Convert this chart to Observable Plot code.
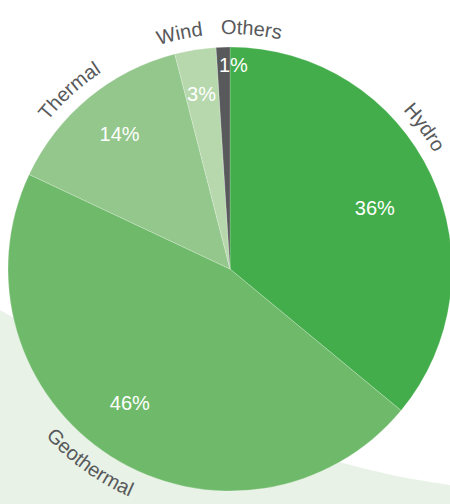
<!DOCTYPE html>
<html><head><meta charset="utf-8">
<script src="https://cdn.jsdelivr.net/npm/d3@7"></script>
<script src="https://cdn.jsdelivr.net/npm/@observablehq/plot@0.6"></script>
<style>html,body{margin:0;padding:0;background:#fff;} #chart svg{display:block;}</style>
</head><body><div id="chart"></div>
<script>
// ---- data ----
const categories = ["Hydro", "Geothermal", "Thermal", "Wind", "Others"];
const shares = [36, 46, 14, 3, 1];
const percentLabels = ["36%", "46%", "14%", "3%", "1%"];

// ---- styles / layout ----
const sliceColors = ["#42ad4a", "#6fba6a", "#93c78c", "#b6d8ac", "#58595b"];
const labelColor = "#58595b";
const bandColor = "#e8f2e7";
const pctRadius = [0.706, 0.755, 0.787, 0.80, 0.92];
const pctAngleShift = [2.3, 4.5, 0.2, -0.4, 2.6];       // degrees
const nameAngleShift = [-10.9, 3.4, -2.4, -3.1, 6.9];   // degrees
const bandX = [-1.036, -0.27, 0.509, 0.991];
const bandY = [0.185, 0.595, 0.874, 0.973];
const bandBottom = 1.06;
const font = "'Liberation Sans', Arial, Helvetica, sans-serif";

const arcs = d3.pie().sort(null).value(d => d)(shares);
const deg = Math.PI / 180;

const pctData = arcs.map((a, i) => {
  const t = (a.startAngle + a.endAngle) / 2 + pctAngleShift[i] * deg;
  return {label: percentLabels[i], x: pctRadius[i] * Math.sin(t), y: -pctRadius[i] * Math.cos(t)};
});

const band = bandX.map((x, i) => ({x, y: bandY[i]}));

function pieMark(index, scales) {
  const cx = scales.x(0), cy = scales.y(0), R = scales.x(1) - cx;
  const g = d3.create("svg:g").attr("transform", `translate(${cx},${cy})`);
  const arc = d3.arc().innerRadius(0).outerRadius(R);
  g.selectAll("path").data(arcs).join("path")
    .attr("d", arc)
    .attr("fill", (d, i) => sliceColors[i])
    .attr("stroke", "#ffffff").attr("stroke-opacity", 0.35).attr("stroke-width", 0.6);
  return g.node();
}

function nameMark(index, scales) {
  const cx = scales.x(0), cy = scales.y(0), R = scales.x(1) - cx;
  const g = d3.create("svg:g");
  const pt = (r, t) => [cx + r * Math.sin(t), cy - r * Math.cos(t)];
  arcs.forEach((a, i) => {
    let t = (a.startAngle + a.endAngle) / 2 + nameAngleShift[i] * deg;
    const td = ((t / deg) % 360 + 360) % 360;
    const flip = td > 90 && td < 270;
    const r = flip ? R + 27 : R + 13;
    let d;
    if (!flip) {
      const p0 = pt(r, t - Math.PI / 2), p1 = pt(r, t + Math.PI / 2);
      d = `M${p0[0]},${p0[1]} A${r},${r} 0 0 1 ${p1[0]},${p1[1]}`;
    } else {
      const p0 = pt(r, t + Math.PI / 2), p1 = pt(r, t - Math.PI / 2);
      d = `M${p0[0]},${p0[1]} A${r},${r} 0 0 0 ${p1[0]},${p1[1]}`;
    }
    const id = "lblpath" + i;
    g.append("path").attr("id", id).attr("d", d).attr("fill", "none").attr("stroke", "none");
    g.append("text")
      .attr("font-family", font).attr("font-size", 20).attr("fill", labelColor)
      .append("textPath").attr("href", "#" + id).attr("startOffset", "50%")
      .attr("text-anchor", "middle").text(categories[i]);
  });
  return g.node();
}

const chart = Plot.plot({
  width: 450,
  height: 504,
  margin: 0,
  style: {background: "#ffffff", overflow: "hidden"},
  x: {domain: [-1, 1], range: [8, 452], axis: null},
  y: {domain: [-1, 1], range: [47, 491], axis: null},
  marks: [
    Plot.areaY(band, {x: "x", y1: bandBottom, y2: "y", curve: "natural", fill: bandColor}),
    pieMark,
    Plot.text(pctData, {x: "x", y: "y", text: "label", fill: "#ffffff", fontSize: 20, fontFamily: font, textAnchor: "middle"}),
    nameMark
  ]
});
document.getElementById("chart").appendChild(chart);
</script>
</body></html>
